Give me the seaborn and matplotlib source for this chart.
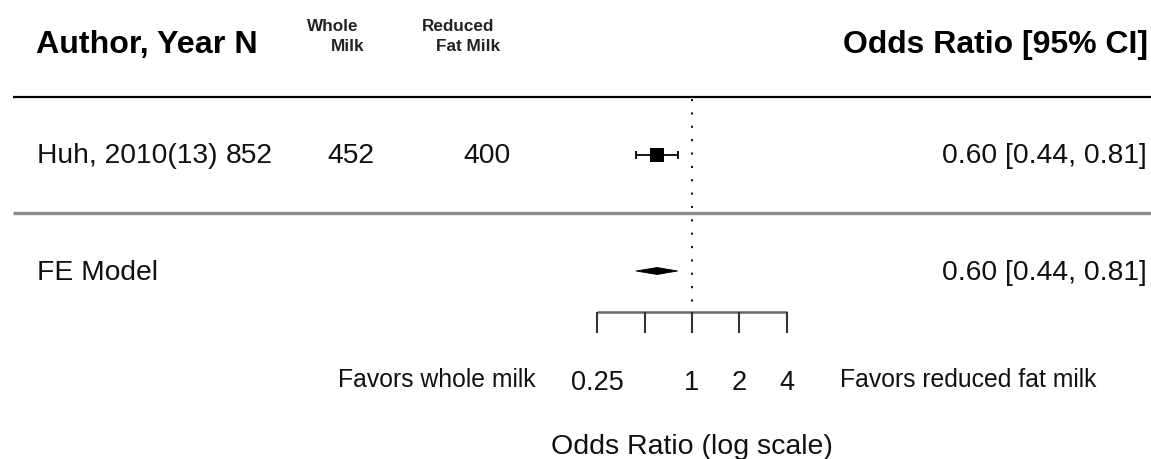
import numpy as np
import pandas as pd
import matplotlib
matplotlib.use("Agg")
import matplotlib.pyplot as plt
import seaborn as sns

# Study-level data
studies = ["Huh, 2010(13)"]
n_total = [852]
n_whole = [452]
n_reduced = [400]
or_est = [0.60]
or_lo = [0.44]
or_hi = [0.81]

# Fixed-effect pooled estimate
fe_label = "FE Model"
fe_est = 0.60
fe_lo = 0.44
fe_hi = 0.81

# Axis ticks
tick_values = [0.25, 0.5, 1, 2, 4]
tick_labels = ["0.25", "", "1", "2", "4"]

sns.set_theme(style="white")
plt.rcParams["font.family"] = ["Liberation Sans", "DejaVu Sans"]

W, H = 1151, 459
fig = plt.figure(figsize=(W / 100, H / 100), dpi=100)
ax = fig.add_axes([0, 0, 1, 1])
ax.set_axis_off()

# log2 odds-ratio axis: OR = 1 sits at x = 692 px, one doubling = 47.3 px
ref_px, per_double = 692, 47.3
ax.set_xscale("log", base=2)
ax.set_xlim(2 ** (-ref_px / per_double), 2 ** ((W - ref_px) / per_double))
ax.set_ylim(H, 0)

tx = ax.get_yaxis_transform()  # x in axes fraction, y in layout units
ink = "#111111"


def px(x):
    return x / W


row_y = [155]
fe_y = 271
axis_y = 312

# Headers
ax.text(px(36), 53, "Author, Year N", transform=tx, fontsize=23.2,
        fontweight="bold", ha="left", va="baseline", color="black")
ax.text(px(1148), 53, "Odds Ratio [95% CI]", transform=tx, fontsize=23,
        fontweight="bold", ha="right", va="baseline", color="black")
ax.text(px(307), 31, "Whole", transform=tx, fontsize=12.3, fontweight="bold",
        ha="left", va="baseline", color="#222222")
ax.text(px(365), 51, "Milk", transform=tx, fontsize=12.3, fontweight="bold",
        ha="right", va="baseline", color="#222222")
ax.text(px(422), 31, "Reduced", transform=tx, fontsize=12.3, fontweight="bold",
        ha="left", va="baseline", color="#222222")
ax.text(px(500), 51, "Fat Milk", transform=tx, fontsize=12.3, fontweight="bold",
        ha="right", va="baseline", color="#222222")

# Separator rules
ax.plot([px(13), 1], [97, 97], transform=tx, color="black", lw=1.6,
        solid_capstyle="butt")
ax.plot([px(13), 1], [213, 213], transform=tx, color="#8c8c8c", lw=2.4,
        solid_capstyle="butt")

# Reference line at OR = 1
ax.vlines(1, 99, axis_y, colors="black", lw=1.3,
          linestyles=[(0, (1.2, 6.2))])

body = 20.3
for i, name in enumerate(studies):
    y = row_y[i]
    base = y + 8
    ax.text(px(37), base, name, transform=tx, fontsize=body, ha="left",
            va="baseline", color=ink)
    ax.text(px(273), base, f"{n_total[i]}", transform=tx, fontsize=body,
            ha="right", va="baseline", color=ink)
    ax.text(px(351), base, f"{n_whole[i]}", transform=tx, fontsize=body,
            ha="center", va="baseline", color=ink)
    ax.text(px(487), base, f"{n_reduced[i]}", transform=tx, fontsize=body,
            ha="center", va="baseline", color=ink)
    ax.text(px(1147), base, f"{or_est[i]:.2f} [{or_lo[i]:.2f}, {or_hi[i]:.2f}]",
            transform=tx, fontsize=body, ha="right", va="baseline", color=ink)

# Confidence intervals with end caps and square point estimates
df = pd.DataFrame({"est": or_est, "lo": or_lo, "hi": or_hi, "y": row_y})
ax.hlines(df["y"], df["lo"], df["hi"], colors="black", lw=1.3)
ax.vlines(df["lo"], df["y"] - 4, df["y"] + 4, colors="black", lw=1.3)
ax.vlines(df["hi"], df["y"] - 4, df["y"] + 4, colors="black", lw=1.3)
sns.scatterplot(data=df, x="est", y="y", marker="s", s=95, color="black",
                edgecolor="black", linewidth=0, ax=ax, legend=False, zorder=3)
ax.set_xlabel("")
ax.set_ylabel("")

# Pooled diamond
ax.fill([fe_lo, fe_est, fe_hi, fe_est], [fe_y, fe_y - 3.5, fe_y, fe_y + 3.5],
        color="black", lw=0.6, edgecolor="black")
ax.text(px(37), fe_y + 9, fe_label, transform=tx, fontsize=body, ha="left",
        va="baseline", color=ink)
ax.text(px(1147), fe_y + 9, f"{fe_est:.2f} [{fe_lo:.2f}, {fe_hi:.2f}]",
        transform=tx, fontsize=body, ha="right", va="baseline", color=ink)

# Bottom axis drawn below the rows
ax.hlines(axis_y, min(tick_values), max(tick_values), colors="#6a6a6a", lw=1.8)
ax.vlines(tick_values, axis_y, axis_y + 21, colors="#333333", lw=1.5)
for v, lab in zip(tick_values, tick_labels):
    if lab:
        ax.text(v, 390, lab, fontsize=19.5, ha="center", va="baseline",
                color=ink)

ax.text(px(535), 387, "Favors whole milk", transform=tx, fontsize=17.8,
        ha="right", va="baseline", color=ink)
ax.text(px(840), 387, "Favors reduced fat milk", transform=tx, fontsize=17.8,
        ha="left", va="baseline", color=ink)
ax.text(1, 454, "Odds Ratio (log scale)", fontsize=20.5, ha="center",
        va="baseline", color=ink)

fig.savefig("out.png", dpi=100, facecolor="white")
